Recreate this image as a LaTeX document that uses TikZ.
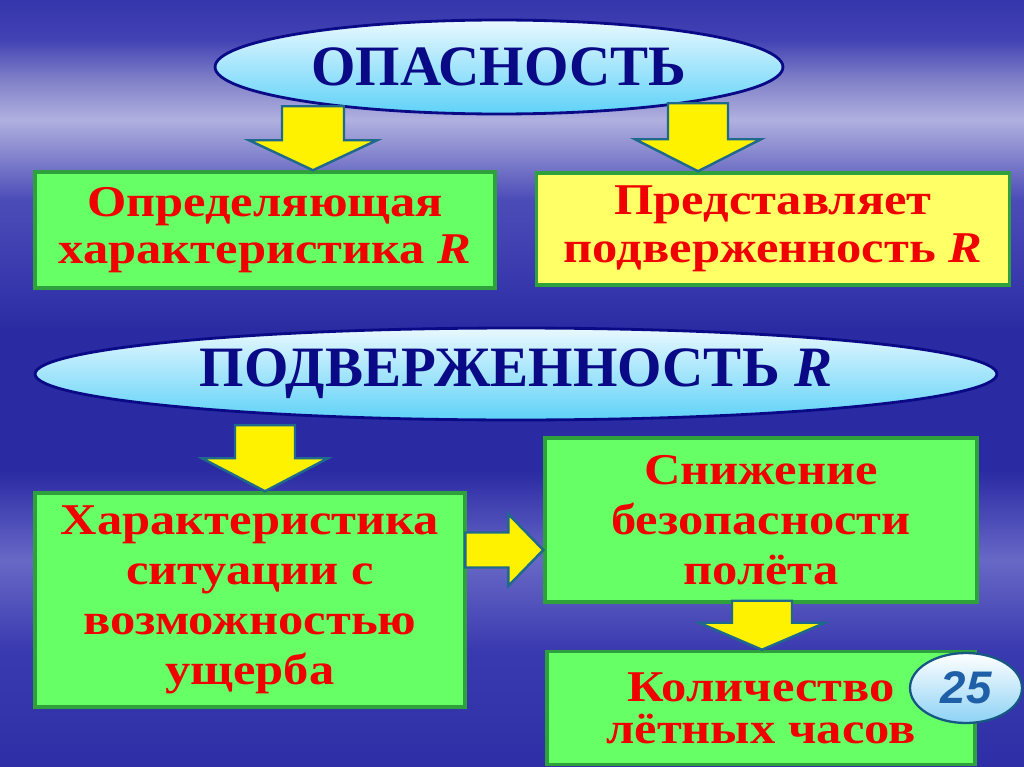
\documentclass[tikz,border=0pt]{standalone}
\usepackage{fontspec}
\setmainfont{Liberation Serif}
\newfontfamily\boxfont[FakeStretch=1.15]{Liberation Serif}
\newfontfamily\badgefont{Liberation Sans}
\usetikzlibrary{shapes.geometric,calc}
\definecolor{skyNavy}{RGB}{10,10,135}
\definecolor{ovalTop}{RGB}{232,248,255}
\definecolor{ovalBottom}{RGB}{95,210,248}
\definecolor{boxGreen}{RGB}{102,255,102}
\definecolor{boxYellow}{RGB}{255,255,102}
\definecolor{boxBorder}{RGB}{46,160,60}
\definecolor{alertRed}{RGB}{240,0,0}
\definecolor{arrowTeal}{RGB}{30,105,140}
\definecolor{badgeBlue}{RGB}{30,95,168}
\definecolor{badgeBorder}{RGB}{22,88,130}
\definecolor{badgeBottom}{RGB}{140,210,245}
\definecolor{bgA}{RGB}{46,46,166}
\definecolor{bgB}{RGB}{58,58,176}
\definecolor{bgC}{RGB}{104,104,198}
\definecolor{bgD}{RGB}{76,76,184}
\definecolor{bgE}{RGB}{42,42,162}
\definecolor{bgF}{RGB}{54,54,172}
\definecolor{bgG}{RGB}{138,138,208}
\definecolor{bgH}{RGB}{176,176,224}
\definecolor{bgI}{RGB}{128,128,200}
\definecolor{bgJ}{RGB}{66,66,180}
\pgfdeclareverticalshading{bgsky}{100bp}{color(0bp)=(bgA); color(25bp)=(bgA);
  color(32.6bp)=(bgB); color(38.5bp)=(bgC); color(41.1bp)=(bgD); color(44.4bp)=(bgE);
  color(53.5bp)=(bgE); color(56.1bp)=(bgF); color(62bp)=(bgD); color(65.2bp)=(bgG);
  color(67.2bp)=(bgH); color(69.8bp)=(bgI); color(72.4bp)=(bgJ); color(75bp)=(bgF);
  color(100bp)=(bgF)}
\tikzset{
  greenbox/.style={rectangle, draw=boxBorder, line width=2pt, fill=boxGreen,
    inner sep=0pt, align=center, text=alertRed,
    font=\boxfont\fontsize{25}{27}\selectfont\bfseries},
  titleoval/.style={ellipse, draw=skyNavy, line width=1.6pt, top color=ovalTop,
    bottom color=ovalBottom, text=skyNavy, inner sep=0pt,
    font=\fontsize{32.5}{36}\selectfont\bfseries},
  yellowArrow/.style={draw=arrowTeal, line width=1.4pt, fill=yellow, line join=miter}
}
% tip, head half width, head length, shaft half width, shaft length
\newcommand{\downblock}[5]{%
  \draw[yellowArrow] #1 -- ++(#2,-#3) -- ++(-#2+#4,0) -- ++(0,-#5)
    -- ++(-2*#4,0) -- ++(0,#5) -- ++(-#2+#4,0) -- cycle;}

\begin{document}
\begin{tikzpicture}[x=0.02cm, y=-0.02cm]
  \useasboundingbox (0,0) rectangle (1024,767);
  \shade[shading=bgsky] (0,0) rectangle (1024,767);

  % titles
  \node[titleoval, minimum width=11.36cm, minimum height=1.88cm] (danger) at (499,67) {ОПАСНОСТЬ};
  \node[titleoval, minimum width=19.24cm, minimum height=1.84cm] (expo) at (516,374) {ПОДВЕРЖЕННОСТЬ \textit{R}};

  % boxes
  \node[greenbox, minimum width=9.2cm, minimum height=2.32cm] (feature) at (265,230)
    {Определяющая\\характеристика \textit{R}};
  \node[greenbox, fill=boxYellow, minimum width=9.46cm, minimum height=2.24cm] (present) at (773,229)
    {Представляет\\подверженность \textit{R}};
  \node[greenbox, minimum width=8.6cm, minimum height=4.28cm, font=\boxfont\fontsize{25}{28.5}\selectfont\bfseries] (situation) at (250,600)
    {Характеристика\\ситуации с\\возможностью\\ущерба};
  \node[greenbox, minimum width=8.64cm, minimum height=3.28cm, font=\boxfont\fontsize{25}{28.5}\selectfont\bfseries] (safety) at (761,520)
    {Снижение\\безопасности\\полёта};
  \node[greenbox, minimum width=8.56cm, minimum height=2.26cm, font=\boxfont\fontsize{25}{24}\selectfont\bfseries] (hours) at (761,708)
    {Количество\\лётных часов};

  % block arrows
  \coordinate (a1) at (313,0);
  \coordinate (a2) at (698,0);
  \coordinate (a3) at (265,0);
  \coordinate (a4) at (762,0);
  \coordinate (a5) at (0,550);
  \downblock{(a1 |- feature.north)}{64}{30}{31}{34}
  \downblock{(a2 |- present.north)}{63}{32}{30}{36}
  \downblock{(a3 |- situation.north)}{63}{33}{30}{33}
  \downblock{(a4 |- hours.north)}{63}{27}{30}{22}
  \draw[yellowArrow] (safety.west |- a5) -- ++(-35,-36) -- ++(0,18.5) -- ++(-43,0)
    -- ++(0,35) -- ++(43,0) -- ++(0,18.5) -- cycle;

  % slide number
  \node[ellipse, draw=badgeBorder, line width=1.3pt, top color=white, bottom color=badgeBottom,
        minimum width=2.24cm, minimum height=1.4cm, inner sep=0pt, text=badgeBlue,
        font=\badgefont\fontsize{26}{30}\selectfont\bfseries\itshape] (num) at (966,688) {25};
\end{tikzpicture}
\end{document}
